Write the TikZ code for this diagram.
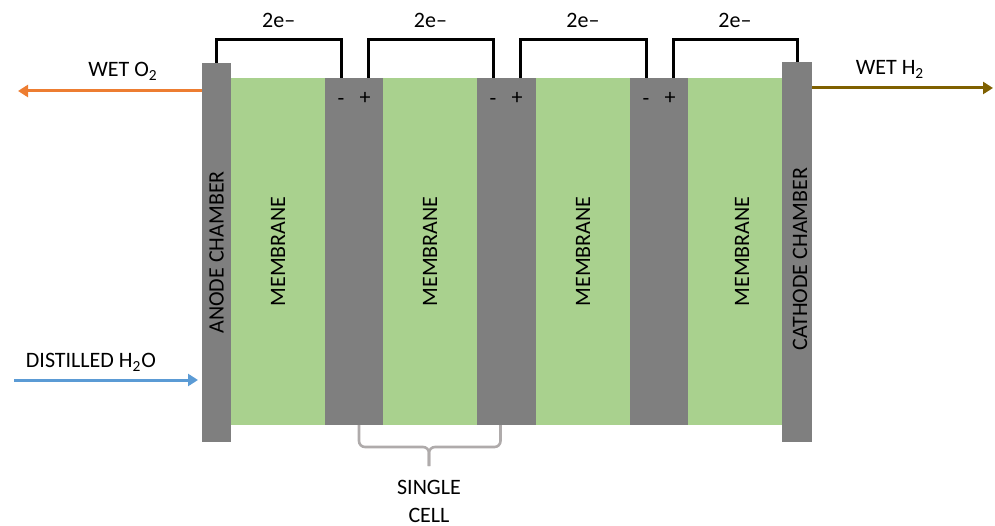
\documentclass[tikz,border=0pt]{standalone}
\usepackage{fontspec}
\setmainfont{Carlito}
\usetikzlibrary{arrows.meta}

\definecolor{plategray}{RGB}{127,127,127}
\definecolor{membgreen}{RGB}{169,209,142}
\definecolor{otwo}{RGB}{237,125,49}
\definecolor{htwo}{RGB}{127,96,0}
\definecolor{water}{RGB}{91,155,213}
\definecolor{bracegray}{RGB}{175,171,171}

\tikzset{
    plate/.style={fill=plategray, inner sep=0pt, outer sep=0pt, anchor=south west, minimum height=173.5pt},
    memb/.style={fill=membgreen, inner sep=0pt, outer sep=0pt, anchor=south west, minimum height=173.5pt, minimum width=47pt},
    wire/.style={line width=1.5pt},
    flow/.style={line width=1.5pt, -{Triangle[length=5pt, width=6pt]}},
    brace/.style={bracegray, line width=1.3pt, rounded corners=3pt},
}

\begin{document}
\begin{tikzpicture}[x=0.5pt, y=0.5pt, font=\fontsize{11}{13}\selectfont]
    \useasboundingbox (0, 0) rectangle (995, 525);

    \node[plate, minimum width=14.5pt, minimum height=189.5pt] (anode) at (202, 83) {};
    \node[memb] (m1) at (231, 100) {};
    \node[plate, minimum width=29pt] (c1) at (325, 100) {};
    \node[memb] (m2) at (383, 100) {};
    \node[plate, minimum width=29.5pt] (c2) at (477, 100) {};
    \node[memb] (m3) at (536, 100) {};
    \node[plate, minimum width=29pt] (c3) at (630, 100) {};
    \node[memb] (m4) at (688, 100) {};
    \node[plate, minimum width=15pt, minimum height=190pt] (cathode) at (782, 83) {};

    \node[rotate=90] (anodetext) at (anode.center) {ANODE CHAMBER};
    \node[rotate=90] (m1text) at (m1.center) {MEMBRANE};
    \node[rotate=90] (m2text) at (m2.center) {MEMBRANE};
    \node[rotate=90] (m3text) at (m3.center) {MEMBRANE};
    \node[rotate=90] (m4text) at ([xshift=3.5pt]m4.center) {MEMBRANE};
    \node[rotate=90] (cathodetext) at ([xshift=1.5pt, yshift=-3.5pt]cathode.center) {CATHODE CHAMBER};

    \draw[wire] (anode.north) -- ++(0, 23) -| node[pos=0.25, anchor=base, yshift=6pt] (e1) {2e--} ([xshift=8pt]c1.north west);
    \draw[wire] ([xshift=21.5pt]c1.north west) -- ++(0, 38) -| node[pos=0.25, anchor=base, yshift=6pt] (e2) {2e--} ([xshift=8pt]c2.north west);
    \draw[wire] ([xshift=21.5pt]c2.north west) -- ++(0, 38) -| node[pos=0.25, anchor=base, yshift=6pt] (e3) {2e--} ([xshift=8pt]c3.north west);
    \draw[wire] ([xshift=21.5pt]c3.north west) -- ++(0, 38) -| node[pos=0.25, anchor=base, yshift=6pt] (e4) {2e--} (cathode.north);

    \node (minus1) at ([xshift=8pt, yshift=-12pt]c1.north west) {-};
    \node (plus1) at ([xshift=20pt, yshift=-10pt]c1.north west) {+};
    \node (minus2) at ([xshift=8pt, yshift=-12pt]c2.north west) {-};
    \node (plus2) at ([xshift=20pt, yshift=-10pt]c2.north west) {+};
    \node (minus3) at ([xshift=8pt, yshift=-12pt]c3.north west) {-};
    \node (plus3) at ([xshift=20pt, yshift=-10pt]c3.north west) {+};

    \coordinate (o2out) at (18, 434);
    \coordinate (h2out) at (993, 437);
    \coordinate (waterin) at (14, 145);
    \draw[flow, otwo] ([yshift=-14pt]anode.north west) -- (o2out);
    \draw[flow, htwo] ([yshift=-13pt]cathode.north east) -- (h2out);
    \draw[flow, water] (waterin) -- ([xshift=-2pt, yshift=31pt]anode.south west);

    \node[anchor=base] (o2text) at (123, 448) {WET O\textsubscript{2}};
    \node[anchor=base] (h2text) at (890, 450) {WET H\textsubscript{2}};
    \node[anchor=base] (watertext) at (91, 157) {DISTILLED H\textsubscript{2}O};

    \coordinate (cellmid) at (429, 78);
    \coordinate (bracetip) at (429, 59);
    \draw[brace] ([xshift=2.5pt]c1.south) |- (cellmid) -- (bracetip);
    \draw[brace] ([xshift=-3pt]c2.south) |- (cellmid) -- (bracetip);
    \node[anchor=base] (single) at (429, 31) {SINGLE};
    \node[anchor=base] (cell) at (429, 3) {CELL};
\end{tikzpicture}
\end{document}
